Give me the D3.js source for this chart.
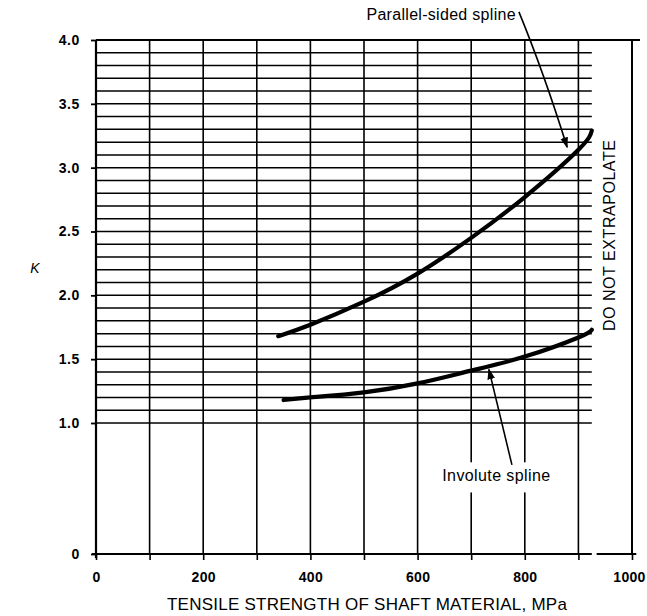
<!DOCTYPE html>
<html><head><meta charset="utf-8">
<script src="https://cdn.jsdelivr.net/npm/d3@7"></script>
<style>body{margin:0;background:#fff}svg{display:block}text{font-family:"Liberation Sans",Arial,sans-serif;fill:#000}</style>
</head><body><svg id="c" width="647" height="616"></svg>
<script>
const xTicks = [0, 200, 400, 600, 800, 1000];
const yTicks = [0, 1.0, 1.5, 2.0, 2.5, 3.0, 3.5, 4.0];
const xGrid = [100, 200, 300, 400, 500, 600, 700, 800, 900];
const yGrid = d3.range(10, 40).map(d => d / 10);
const parallelSpline = [[340,1.68],[400,1.77],[500,1.95],[600,2.17],[700,2.45],[800,2.77],[900,3.14],[925,3.29]];
const involuteSpline = [[350,1.18],[400,1.20],[500,1.24],[600,1.31],[700,1.41],[800,1.52],[900,1.67],[925,1.73]];
const gridEnd = 925;

const svg = d3.select("#c");
const x = d3.scaleLinear().domain([0, 1000]).range([96, 632]);
const y = d3.scaleLinear().domain([0, 1, 4]).range([554, 423, 40]);

// vertical grid lines
svg.selectAll(".vg").data(xGrid).enter().append("line")
  .attr("x1", d => x(d)).attr("x2", d => x(d)).attr("y1", y(0)).attr("y2", y(4))
  .attr("stroke", "#000").attr("stroke-width", 1.6);
// horizontal grid lines
svg.selectAll(".hg").data(yGrid).enter().append("line")
  .attr("x1", x(0)).attr("x2", x(gridEnd)).attr("y1", d => y(d)).attr("y2", d => y(d))
  .attr("stroke", "#000").attr("stroke-width", 1.5);
// top line
svg.append("line").attr("x1", x(0)).attr("x2", x(1015)).attr("y1", y(4)).attr("y2", y(4))
  .attr("stroke", "#000").attr("stroke-width", 2.2);
// right line at 1000
svg.append("line").attr("x1", x(1000)).attr("x2", x(1000)).attr("y1", y(0)).attr("y2", y(4))
  .attr("stroke", "#000").attr("stroke-width", 2);
// y axis
svg.append("line").attr("x1", x(0)).attr("x2", x(0)).attr("y1", y(0) + 4).attr("y2", y(4))
  .attr("stroke", "#000").attr("stroke-width", 2.2);
// x axis (with small gap)
svg.append("line").attr("x1", x(0) - 4).attr("x2", x(gridEnd)).attr("y1", y(0)).attr("y2", y(0))
  .attr("stroke", "#000").attr("stroke-width", 2.2);
svg.append("line").attr("x1", x(934)).attr("x2", x(1008)).attr("y1", y(0)).attr("y2", y(0))
  .attr("stroke", "#000").attr("stroke-width", 2.2);

// axes via d3
const yAxis = d3.axisLeft(y).tickValues(yTicks).tickSize(5).tickPadding(11)
  .tickFormat(d => d === 0 ? "0" : d3.format(".1f")(d));
const gy = svg.append("g").attr("transform", `translate(${x(0)},0)`).call(yAxis);
gy.select(".domain").remove();
gy.selectAll("line").attr("stroke-width", 1.8);
gy.selectAll("text").attr("font-size", 14).attr("font-weight", "bold").attr("letter-spacing", 0.6);

const xAxis = d3.axisBottom(x).tickValues(d3.range(0, 1001, 100)).tickSize(6).tickPadding(12)
  .tickFormat(d => xTicks.includes(d) ? d : "");
const gx = svg.append("g").attr("transform", `translate(0,${y(0)})`).call(xAxis);
gx.select(".domain").remove();
gx.selectAll("line").attr("stroke-width", 1.6);
gx.selectAll("text").attr("font-size", 14).attr("font-weight", "bold").attr("letter-spacing", 0.3)
  .attr("dx", d => d === 1000 ? -3 : 0);

// curves
const line = d3.line().x(d => x(d[0])).y(d => y(d[1])).curve(d3.curveNatural);
[parallelSpline, involuteSpline].forEach(s => {
  svg.append("path").datum(s).attr("d", line).attr("fill", "none")
    .attr("stroke", "#000").attr("stroke-width", 4.2).attr("stroke-linecap", "round");
});

// arrowhead marker
svg.append("defs").append("marker").attr("id", "ah").attr("viewBox", "0 0 10 10")
  .attr("refX", 9).attr("refY", 5).attr("markerWidth", 11).attr("markerHeight", 11)
  .attr("markerUnits", "userSpaceOnUse").attr("orient", "auto")
  .append("path").attr("d", "M0,1.5 L10,5 L0,8.5 Z").attr("fill", "#000");

// Involute label
svg.append("rect").attr("x", x(640)).attr("y", y(0.70))
  .attr("width", x(855) - x(640)).attr("height", y(0.47) - y(0.70)).attr("fill", "#fff");
svg.append("text").attr("x", x(747)).attr("y", y(0.557)).attr("text-anchor", "middle")
  .attr("font-size", 16).attr("letter-spacing", 0.4).text("Involute spline");
svg.append("path").attr("d", `M${x(776)},${y(0.68)} L${x(733)},${y(1.42)}`)
  .attr("stroke", "#000").attr("stroke-width", 1.6).attr("fill", "none").attr("marker-end", "url(#ah)");

// Parallel label
svg.append("text").attr("x", x(644)).attr("y", y(4.157)).attr("text-anchor", "middle")
  .attr("font-size", 16).attr("letter-spacing", 0.3).text("Parallel-sided spline");
svg.append("path").attr("d", `M${x(789)},${y(4.22)} Q${x(835)},${y(3.75)} ${x(879)},${y(3.16)}`)
  .attr("stroke", "#000").attr("stroke-width", 1.6).attr("fill", "none").attr("marker-end", "url(#ah)");

// DO NOT EXTRAPOLATE
svg.append("text").attr("transform", `translate(${x(968)},${y(2.47)}) rotate(-90)`)
  .attr("text-anchor", "middle").attr("font-size", 16).attr("letter-spacing", 0.55).text("DO NOT EXTRAPOLATE");

// axis titles
svg.append("text").attr("x", 35).attr("y", 273).attr("font-size", 14).attr("font-style", "italic")
  .attr("text-anchor", "middle").text("K");
svg.append("text").attr("x", 367).attr("y", 610).attr("text-anchor", "middle")
  .attr("font-size", 17).attr("letter-spacing", 0.25).text("TENSILE STRENGTH OF SHAFT MATERIAL, MPa");
</script></body></html>
